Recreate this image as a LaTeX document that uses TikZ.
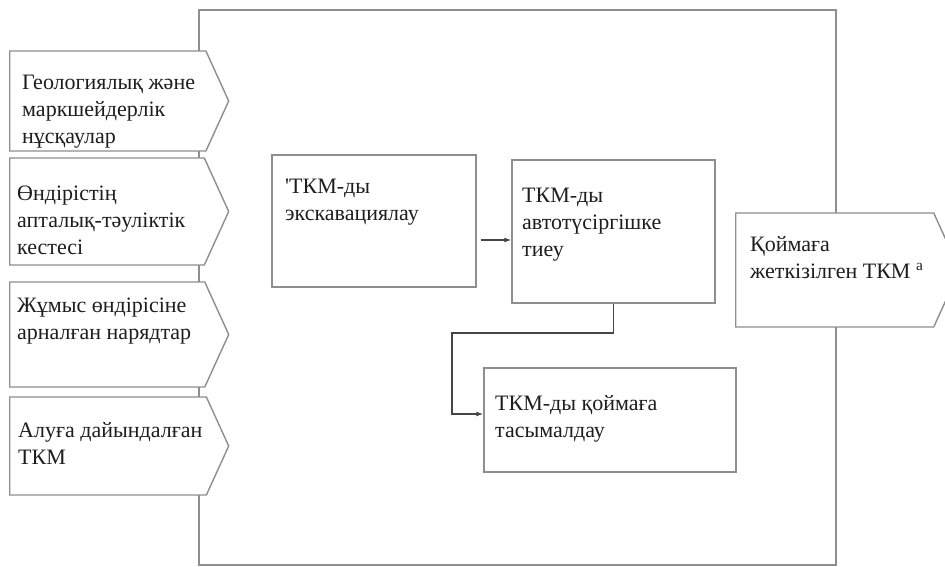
\documentclass[tikz,border=0pt]{standalone}
\usepackage{fontspec}
\setmainfont{Liberation Serif}
\usetikzlibrary{positioning,shapes.symbols,arrows.meta,calc}
\definecolor{linegray}{HTML}{8E8E8E}
\definecolor{flowgray}{HTML}{454545}
\definecolor{inktext}{HTML}{1E1E1E}

\tikzset{
  frame/.style={draw=linegray, line width=2pt, inner sep=0pt},
  stage/.style={draw=linegray, line width=1.4pt, fill=white, inner sep=0pt},
  inarrow/.style={signal, signal to=east, signal pointer angle=131, draw=linegray,
    line width=1.4pt, fill=white, inner sep=0pt, anchor=west},
  % base west = baseline of the last line
  txt/.style={anchor=base west, align=left, inner sep=0pt, text=inktext,
    font=\fontsize{22}{27}\selectfont},
  flow/.style={draw=flowgray, line width=1.2pt, -{Latex[length=7pt,width=5pt]}}
}

\begin{document}
\begin{tikzpicture}[x=1pt, y=-1pt]
            \useasboundingbox (0,0) rectangle (945,567);
            \clip (0,0) rectangle (945,567);

            % Outer process frame
            \node[frame, minimum width=637pt, minimum height=555pt] (process) at (517.5,287.5) {};

            % Inputs on the left
            \node[inarrow, minimum width=219pt, minimum height=100pt] (geo) at (9,101) {};
            \node[txt] (geoT) at (22,143) {Геологиялық және\\маркшейдерлік\\нұсқаулар};

            \node[inarrow, minimum width=219pt, minimum height=107pt] (sched) at (9,211.5) {};
            \node[txt] (schedT) at (17,254) {Өндірістің\\апталық-тәуліктік\\кестесі};

            \node[inarrow, minimum width=219pt, minimum height=105pt] (orders) at (9,334.5) {};
            \node[txt] (ordersT) at (17,339) {Жұмыс өндірісіне\\арналған нарядтар};

            \node[inarrow, minimum width=219pt, minimum height=98pt] (ready) at (9,446) {};
            \node[txt] (readyT) at (18,464) {Алуға дайындалған\\ТКМ};

            % Stages inside the frame
            \node[stage, minimum width=204pt, minimum height=132pt] (excav) at (374,221) {};
            \node[txt] (excavT) at (285,220) {\textquotesingle ТКМ-ды\\экскавациялау};

            \node[stage, minimum width=203pt, minimum height=143pt] (load) at (613.5,231.5) {};
            \node[txt] (loadT) at (522,256) {ТКМ-ды\\автотүсіргішке\\тиеу};

            \node[stage, minimum width=252pt, minimum height=104pt] (haul) at (610,420) {};
            \node[txt] (haulT) at (495,437) {ТКМ-ды қоймаға\\тасымалдау};

            % Output on the right
            \node[inarrow, minimum width=224pt, minimum height=114pt] (store) at (735,270) {};
            \node[txt] (storeT) at (750,278) {Қоймаға\\жеткізілген ТКМ \textsuperscript{а}};

            % Flow between stages
            \draw[flow] ([xshift=4pt,yshift=-19pt]excav.east) -- ([yshift=-19pt]excav.east -| load.west);
            \coordinate (turn) at (452,333);
            \draw[flow] (load.south) |- (turn) |- ([yshift=6pt]haul.west);
        \end{tikzpicture}
\end{document}
